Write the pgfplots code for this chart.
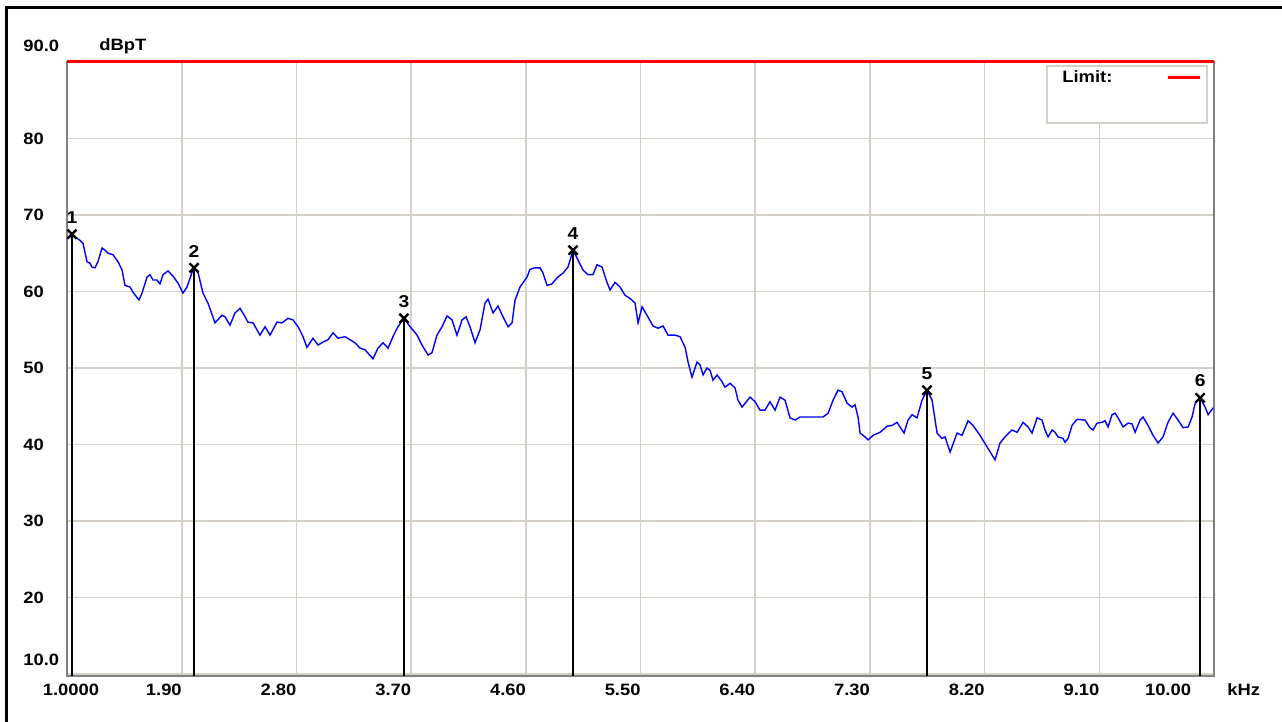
\documentclass[border=0pt]{standalone}
\usepackage{fontspec}
\setmainfont{Liberation Sans}[FakeStretch=1.12]
\usepackage{pgfplots}
\pgfplotsset{compat=1.18}
\definecolor{gridgray}{RGB}{212,208,200}
\definecolor{axgray}{RGB}{128,128,128}
\definecolor{traceblue}{RGB}{0,0,255}
\begin{document}
\begin{tikzpicture}[font=\fontsize{8.2pt}{9.8pt}\selectfont\bfseries]
\useasboundingbox (0,0) rectangle (641pt,361pt);
\begin{axis}[
  at={(33.5pt,23pt)}, anchor=south west,
  scale only axis, width=573.5pt, height=307pt,
  xmin=1, xmax=10, ymin=9.75, ymax=90,
  clip=false,
  xtick={1,1.9,2.8,3.7,4.6,5.5,6.4,7.3,8.2,9.1,10},
  xticklabels={\makebox[0pt]{\hspace*{4pt}1.0000},\llap{1.90},\llap{2.80},\llap{3.70},\llap{4.60},\llap{5.50},\llap{6.40},\llap{7.30},\llap{8.20},\llap{9.10},\llap{10.00\hspace*{11.5pt}}},
  ytick={10,20,30,40,50,60,70,80,90},
  yticklabels={\smash{\raisebox{4.5pt}{10.0}},20,30,40,50,60,70,80,\smash{\raisebox{5.15pt}{90.0}}},
  major tick length=0pt,
  grid=major,
  major grid style={gridgray, line width=0.8pt},
  axis line style={axgray, line width=1.2pt},
  xticklabel style={anchor=north, inner sep=0pt, yshift=-3.75pt},
  yticklabel style={anchor=west, inner sep=0pt, xshift=-22pt},
]
% limit line
\addplot[red, line width=1.5pt, mark=none] coordinates {(1,90) (10,90)};
% measured trace
\addplot[traceblue, line width=0.7pt, mark=none] coordinates {
(1.008,67.1) (1.039,67.4) (1.102,66.7) (1.126,66.3) (1.157,63.9) (1.180,63.7) (1.196,63.2) (1.220,63.1)
(1.243,63.9) (1.275,65.7) (1.298,65.4) (1.322,65.0) (1.361,64.8) (1.400,63.9) (1.432,62.8) (1.455,60.8)
(1.494,60.6) (1.518,59.9) (1.565,58.9) (1.589,59.8) (1.628,61.9) (1.651,62.2) (1.675,61.5) (1.706,61.5)
(1.730,61.0) (1.753,62.2) (1.793,62.7) (1.832,62.0) (1.871,61.1) (1.910,59.8) (1.942,60.6) (1.981,62.5)
(1.997,63.1) (2.028,62.5) (2.067,59.8) (2.106,58.5) (2.161,55.9) (2.216,56.9) (2.240,56.7) (2.279,55.6)
(2.318,57.2) (2.358,57.8) (2.397,56.7) (2.420,56.0) (2.460,55.9) (2.514,54.3) (2.554,55.4) (2.593,54.3)
(2.648,56.0) (2.687,55.9) (2.734,56.5) (2.773,56.3) (2.813,55.4) (2.852,54.1) (2.883,52.7) (2.930,53.9)
(2.970,53.0) (3.009,53.4) (3.048,53.7) (3.087,54.6) (3.127,53.9) (3.181,54.1) (3.221,53.7) (3.260,53.3)
(3.299,52.6) (3.338,52.4) (3.401,51.2) (3.440,52.6) (3.480,53.3) (3.519,52.6) (3.558,54.1) (3.597,55.4)
(3.644,56.5) (3.692,55.4) (3.747,54.3) (3.786,53.0) (3.833,51.7) (3.864,52.0) (3.903,54.3) (3.943,55.4)
(3.982,56.8) (4.021,56.3) (4.060,54.3) (4.100,56.3) (4.131,56.7) (4.162,55.4) (4.202,53.3) (4.241,55.0)
(4.280,58.5) (4.304,59.0) (4.343,57.2) (4.382,58.1) (4.421,56.7) (4.461,55.4) (4.492,55.9) (4.516,58.9)
(4.555,60.6) (4.610,61.9) (4.633,62.9) (4.673,63.1) (4.712,63.1) (4.735,62.4) (4.767,60.8) (4.806,61.0)
(4.845,61.8) (4.892,62.4) (4.931,63.2) (4.971,65.4) (5.010,64.1) (5.049,62.8) (5.088,62.2) (5.127,62.2)
(5.159,63.5) (5.198,63.2) (5.237,61.2) (5.261,60.2) (5.300,61.2) (5.339,60.6) (5.379,59.5) (5.418,59.1)
(5.457,58.5) (5.481,55.9) (5.512,58.0) (5.551,56.9) (5.598,55.5) (5.638,55.2) (5.677,55.5) (5.716,54.3)
(5.771,54.3) (5.810,54.1) (5.850,52.7) (5.873,50.8) (5.904,48.8) (5.944,50.8) (5.967,50.4) (5.991,49.1)
(6.022,50.0) (6.046,49.7) (6.069,48.4) (6.101,49.1) (6.140,48.2) (6.163,47.5) (6.203,48.0) (6.242,47.4)
(6.265,45.8) (6.297,44.9) (6.360,46.2) (6.399,45.6) (6.438,44.5) (6.477,44.5) (6.516,45.6) (6.556,44.5)
(6.595,46.2) (6.634,45.8) (6.673,43.5) (6.713,43.2) (6.752,43.6) (6.830,43.6) (6.932,43.6) (6.972,44.1)
(7.011,45.8) (7.050,47.1) (7.081,46.9) (7.121,45.4) (7.160,44.9) (7.183,45.2) (7.207,43.6) (7.223,41.5)
(7.262,41.0) (7.285,40.6) (7.325,41.2) (7.380,41.6) (7.435,42.4) (7.474,42.5) (7.513,42.9) (7.536,42.3)
(7.568,41.5) (7.599,43.2) (7.631,43.9) (7.670,43.5) (7.709,45.8) (7.748,47.1) (7.788,45.8) (7.827,41.5)
(7.866,40.8) (7.890,41.0) (7.929,39.0) (7.984,41.5) (8.023,41.2) (8.070,43.1) (8.109,42.5) (8.164,41.2)
(8.219,39.7) (8.282,38.0) (8.321,40.2) (8.360,41.0) (8.415,41.9) (8.455,41.6) (8.502,42.9) (8.541,42.3)
(8.572,41.5) (8.612,43.5) (8.651,43.2) (8.674,41.9) (8.698,41.0) (8.729,41.9) (8.753,41.6) (8.776,41.0)
(8.816,40.8) (8.831,40.3) (8.855,40.8) (8.886,42.5) (8.925,43.3) (8.988,43.2) (9.027,42.2) (9.051,41.9)
(9.082,42.8) (9.122,42.9) (9.145,43.1) (9.169,42.3) (9.200,43.9) (9.224,44.1) (9.247,43.5) (9.287,42.3)
(9.326,42.8) (9.357,42.7) (9.381,41.6) (9.420,43.2) (9.443,43.6) (9.483,42.5) (9.522,41.2) (9.561,40.2)
(9.600,41.0) (9.639,42.9) (9.679,44.1) (9.718,43.2) (9.757,42.2) (9.797,42.3) (9.828,43.6) (9.852,45.4)
(9.891,46.1) (9.930,44.9) (9.954,43.9) (9.985,44.6) (9.992,44.8)
};
% marker stems
\addplot[black, line width=0.7pt, mark=none, unbounded coords=jump] coordinates {
(1.039,9.75) (1.039,67.5) (nan,nan)
(1.997,9.75) (1.997,63.1) (nan,nan)
(3.644,9.75) (3.644,56.5) (nan,nan)
(4.971,9.75) (4.971,65.4) (nan,nan)
(7.748,9.75) (7.748,47.1) (nan,nan)
(9.891,9.75) (9.891,46.1)
};
% markers
\addplot[only marks, black, mark=x, mark size=3.2pt, line width=1.2pt,
  nodes near coords, point meta=explicit symbolic,
  every node near coord/.style={anchor=south, inner sep=0pt, yshift=4.8pt, black, font=\fontsize{8.6pt}{10pt}\selectfont\bfseries}]
  coordinates {
(1.039,67.5) [1]
(1.997,63.1) [2]
(3.644,56.5) [3]
(4.971,65.4) [4]
(7.748,47.1) [5]
(9.891,46.1) [6]
};
\end{axis}
\begin{scope}[shift={(0pt,361pt)}, x=0.5pt, y=-0.5pt]
  \draw[black, line width=1.25pt] (6.5,722) -- (6.5,7.5) -- (1282,7.5);
  \node[anchor=west, inner sep=0pt] at (99,46) {dBpT};
  \node[anchor=west, inner sep=0pt] at (1227,690) {kHz};
  \draw[gridgray, line width=0.6pt, fill=white] (1047,66) rectangle (1207,123);
  \node[anchor=west, inner sep=0pt] at (1062,77) {Limit:};
  \draw[red, line width=1.5pt] (1168,78) -- (1200,78);
\end{scope}
\end{tikzpicture}
\end{document}
